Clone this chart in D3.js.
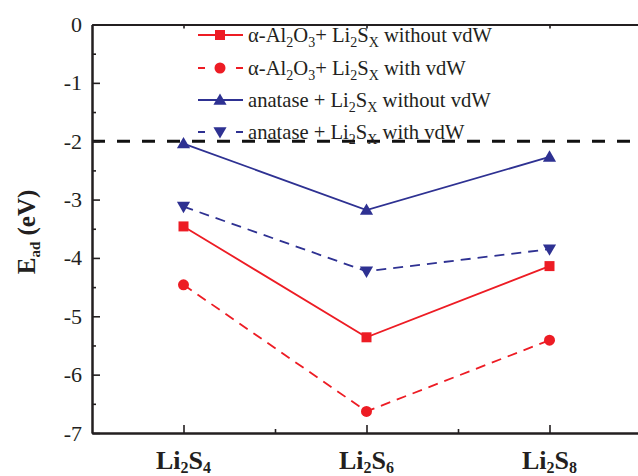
<!DOCTYPE html>
<html>
<head>
<meta charset="utf-8">
<script src="https://cdn.jsdelivr.net/npm/d3@7/dist/d3.min.js"></script>
<style>
html,body{margin:0;padding:0;background:#fff;}
svg{display:block;}
</style>
</head>
<body>
<script>
// ---- data ----
const categories = ["Li_{2}S_{4}", "Li_{2}S_{6}", "Li_{2}S_{8}"];
const alWithoutVdW = [-3.46, -5.36, -4.14];
const alWithVdW = [-4.46, -6.63, -5.41];
const anWithoutVdW = [-2.04, -3.18, -2.27];
const anWithVdW = [-3.12, -4.23, -3.85];
const seriesNames = [
  "α-Al_{2}O_{3}+ Li_{2}S_{X} without vdW",
  "α-Al_{2}O_{3}+ Li_{2}S_{X} with vdW",
  "anatase + Li_{2}S_{X} without vdW",
  "anatase + Li_{2}S_{X} with vdW"
];
const yTicks = [0, -1, -2, -3, -4, -5, -6, -7];
const yMinorTicks = [-0.5, -1.5, -2.5, -3.5, -4.5, -5.5, -6.5];
const referenceLevel = -2;
const yLabel = "E_{ad} (eV)";

// ---- setup ----
const W = 638, H = 476;
const RED = "#ed1c24", BLUE = "#2e3192", INK = "#231f20";
const FONT = "Liberation Serif";

const svg = d3.select("body").append("svg").attr("width", W).attr("height", H);

const x = d3.scaleLinear().domain([0.5, categories.length + 0.5]).range([92, 641]);
const y = d3.scaleLinear().domain([-7, 0]).range([433, 24.5]);

// helper: text with "_{..}" subscripts
function richText(sel, str, subSize, shift) {
  let lowered = false;
  str.split(/(_\{[^}]*\})/).forEach(p => {
    if (!p) return;
    if (p.startsWith("_{")) {
      sel.append("tspan").attr("font-size", subSize).attr("dy", lowered ? 0 : shift).text(p.slice(2, -1));
      lowered = true;
    } else {
      sel.append("tspan").attr("dy", lowered ? -shift : 0).text(p);
      lowered = false;
    }
  });
}

const series = [
  {name: seriesNames[0], values: alWithoutVdW, color: RED, dash: null, symbol: d3.symbolSquare, size: 100, rot: 0},
  {name: seriesNames[1], values: alWithVdW, color: RED, dash: "10,7", symbol: d3.symbolCircle, size: 95, rot: 0},
  {name: seriesNames[2], values: anWithoutVdW, color: BLUE, dash: null, symbol: d3.symbolTriangle, size: 75, rot: 0},
  {name: seriesNames[3], values: anWithVdW, color: BLUE, dash: "10,7", symbol: d3.symbolTriangle, size: 75, rot: 180}
];

// ---- reference line ----
svg.append("line")
  .attr("x1", x(0.5)).attr("x2", W)
  .attr("y1", y(referenceLevel)).attr("y2", y(referenceLevel))
  .attr("stroke", "#111").attr("stroke-width", 3)
  .attr("stroke-dasharray", "13,12");

// ---- axes ----
const gLeft = svg.append("g").attr("transform", `translate(${x(0.5)},0)`);
gLeft.call(d3.axisLeft(y).tickValues(yTicks).tickSizeInner(-8).tickSizeOuter(0)
  .tickPadding(10).tickFormat(d => String(d)));
gLeft.append("g").call(d3.axisLeft(y).tickValues(yMinorTicks).tickSizeInner(-4).tickSizeOuter(0).tickFormat(""));
gLeft.attr("font-family", FONT).attr("font-size", 22);
gLeft.selectAll("text").attr("font-size", 22).attr("font-family", FONT).attr("fill", INK);

const catIdx = categories.map((c, i) => i + 1);
const gBottom = svg.append("g").attr("transform", `translate(0,${y(-7)})`);
gBottom.call(d3.axisBottom(x).tickValues(catIdx).tickSizeInner(-8).tickSizeOuter(0).tickFormat(""));
gBottom.append("g").call(d3.axisBottom(x).tickValues([1.5, 2.5]).tickSizeInner(-4).tickSizeOuter(0).tickFormat(""));

const gTop = svg.append("g").attr("transform", `translate(0,${y(0)})`);
gTop.call(d3.axisTop(x).tickValues(catIdx).tickSizeInner(-4).tickSizeOuter(0).tickFormat(""));

svg.selectAll(".domain").attr("stroke", INK).attr("stroke-width", 2);
svg.selectAll(".tick line").attr("stroke", INK).attr("stroke-width", 1.6);

// category labels
categories.forEach((c, i) => {
  const t = svg.append("text")
    .attr("x", x(i + 1)).attr("y", 469)
    .attr("text-anchor", "middle")
    .attr("font-family", FONT)
    .attr("font-size", 26).attr("font-weight", "bold").attr("fill", INK);
  richText(t, c, 16, 4);
});

// y label
const yl = svg.append("text")
  .attr("transform", `translate(35,232) rotate(-90)`)
  .attr("text-anchor", "middle")
  .attr("font-family", FONT)
  .attr("font-size", 25).attr("font-weight", "bold").attr("fill", INK);
richText(yl, yLabel, 15, 5);

// ---- series ----
const line = d3.line().x((d, i) => x(i + 1)).y(d => y(d));
series.forEach(s => {
  svg.append("path").datum(s.values)
    .attr("d", line)
    .attr("fill", "none").attr("stroke", s.color).attr("stroke-width", 1.8)
    .attr("stroke-dasharray", s.dash);
  svg.selectAll(null).data(s.values).enter().append("path")
    .attr("d", d3.symbol().type(s.symbol).size(s.size))
    .attr("transform", (d, i) => `translate(${x(i + 1)},${y(d) + (s.symbol === d3.symbolTriangle ? (s.rot ? -1 : 1) : 0)}) rotate(${s.rot})`)
    .attr("fill", s.color);
});

// ---- legend ----
const legRows = [35, 68, 100, 132];
series.forEach((s, i) => {
  const g = svg.append("g").attr("transform", `translate(0,${legRows[i]})`);
  g.append("line").attr("x1", 198).attr("x2", 243).attr("y1", 0).attr("y2", 0)
    .attr("stroke", s.color).attr("stroke-width", 1.8)
    .attr("stroke-dasharray", s.dash ? "7,31" : null);
  g.append("path").attr("d", d3.symbol().type(s.symbol).size(s.size))
    .attr("transform", `translate(220,${s.symbol === d3.symbolTriangle ? (s.rot ? -1 : 1) : 0}) rotate(${s.rot})`)
    .attr("fill", s.color);
  const t = g.append("text").attr("x", 248).attr("y", 7)
    .attr("font-family", FONT)
    .attr("font-size", 20.6).attr("fill", INK);
  richText(t, s.name, 14, 5);
});
</script>
</body>
</html>
